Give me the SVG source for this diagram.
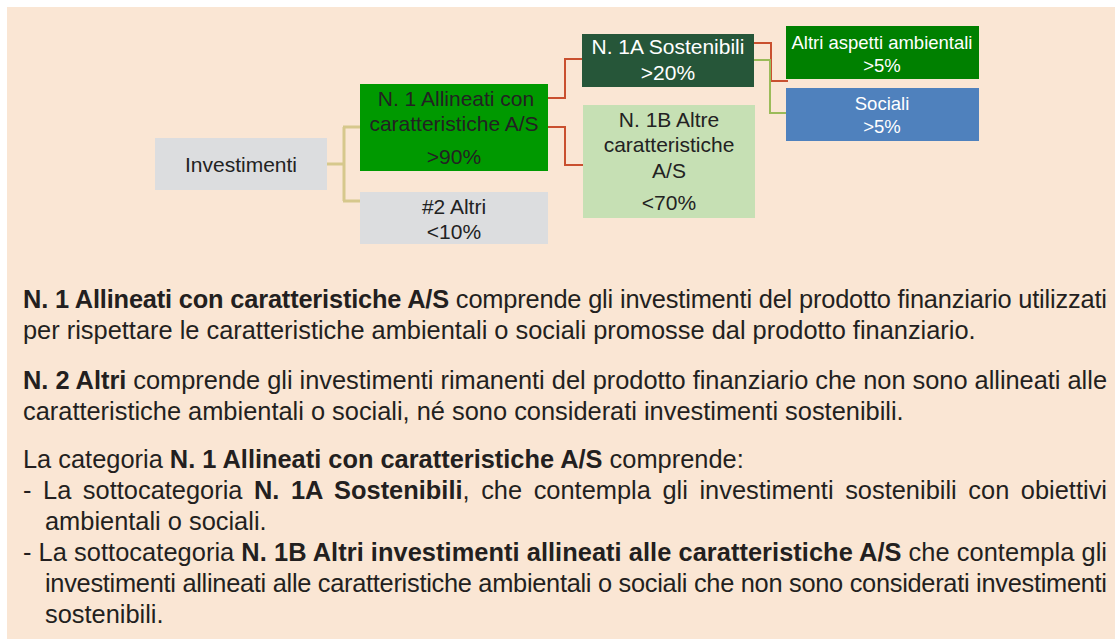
<svg xmlns="http://www.w3.org/2000/svg" width="1115" height="641" viewBox="0 0 1115 641">
<style>
.bx{font-family:"Liberation Sans",Arial,sans-serif;font-size:21px;text-anchor:middle;fill:#222}
.sm{font-size:18.5px}
.w{fill:#fff}
.tx{font-family:"Liberation Sans",Arial,sans-serif;font-size:25.4px;fill:#231f20}
.b{font-weight:bold}
.c{fill:none;stroke-linejoin:miter}
</style>
<rect x="0" y="0" width="1115" height="641" fill="#ffffff"/>
<rect x="7" y="7" width="1108" height="632" fill="#fae6d4"/>
<g id="connectors" class="c">
<path d="M327,164 H344 M344,127 V201 M343,127 H360 M343,201 H360" stroke="#d6c88c" stroke-width="3"/>
<path d="M548,98 H565 V59 H582 M548,127 H565 V165 H583" stroke="#c9502f" stroke-width="2"/>
<path d="M754,43 H771 V81 H788" stroke="#c9502f" stroke-width="2"/>
<path d="M754,60 H770 V113 H786" stroke="#9bbb59" stroke-width="2"/>
</g>
<g id="investimenti">
<rect x="155" y="138" width="172" height="52" fill="#dcdddf"/>
<text class="bx" x="241" y="172">Investimenti</text>
</g>
<g id="n1">
<rect x="360" y="84" width="188" height="87" fill="#009900"/>
<text class="bx" x="456" y="106">N. 1 Allineati con</text>
<text class="bx" x="454" y="131">caratteristiche A/S</text>
<text class="bx" x="454" y="164">&gt;90%</text>
</g>
<g id="n2">
<rect x="360" y="192" width="188" height="52" fill="#dcdddf"/>
<text class="bx" x="454" y="214">#2 Altri</text>
<text class="bx" x="454" y="239">&lt;10%</text>
</g>
<g id="n1a">
<rect x="582" y="34" width="172" height="53" fill="#265639"/>
<text class="bx w" x="668" y="54">N. 1A Sostenibili</text>
<text class="bx w" x="668" y="80">&gt;20%</text>
</g>
<g id="n1b">
<rect x="583" y="105" width="172" height="113" fill="#c6e0b4"/>
<text class="bx" x="669" y="127">N. 1B Altre</text>
<text class="bx" x="669" y="152">caratteristiche</text>
<text class="bx" x="669" y="178">A/S</text>
<text class="bx" x="669" y="210">&lt;70%</text>
</g>
<g id="altri-aspetti">
<rect x="786" y="26" width="193" height="53" fill="#008000"/>
<text class="bx sm w" x="882" y="49">Altri aspetti ambientali</text>
<text class="bx sm w" x="882" y="72">&gt;5%</text>
</g>
<g id="sociali">
<rect x="786" y="88" width="193" height="53" fill="#4f81bd"/>
<text class="bx sm w" x="882" y="110">Sociali</text>
<text class="bx sm w" x="882" y="133">&gt;5%</text>
</g>
<g id="notes">
<text class="tx" x="23" y="308" textLength="1084" lengthAdjust="spacing"><tspan class="b">N. 1 Allineati con caratteristiche A/S</tspan> comprende gli investimenti del prodotto finanziario utilizzati</text>
<text class="tx" x="23" y="339">per rispettare le caratteristiche ambientali o sociali promosse dal prodotto finanziario.</text>
<text class="tx" x="23" y="389" textLength="1084" lengthAdjust="spacing"><tspan class="b">N. 2 Altri</tspan> comprende gli investimenti rimanenti del prodotto finanziario che non sono allineati alle</text>
<text class="tx" x="23" y="420">caratteristiche ambientali o sociali, né sono considerati investimenti sostenibili.</text>
<text class="tx" x="23" y="468">La categoria <tspan class="b">N. 1 Allineati con caratteristiche A/S</tspan> comprende:</text>
<text class="tx" x="23" y="499" word-spacing="4.5" textLength="1084" lengthAdjust="spacing">- La sottocategoria <tspan class="b">N. 1A Sostenibili</tspan>, che contempla gli investimenti sostenibili con obiettivi</text>
<text class="tx" x="45" y="530">ambientali o sociali.</text>
<text class="tx" x="23" y="561" textLength="1084" lengthAdjust="spacing">- La sottocategoria <tspan class="b">N. 1B Altri investimenti allineati alle caratteristiche A/S</tspan> che contempla gli</text>
<text class="tx" x="45" y="592" textLength="1062" lengthAdjust="spacing">investimenti allineati alle caratteristiche ambientali o sociali che non sono considerati investimenti</text>
<text class="tx" x="45" y="623">sostenibili.</text>
</g>
</svg>
